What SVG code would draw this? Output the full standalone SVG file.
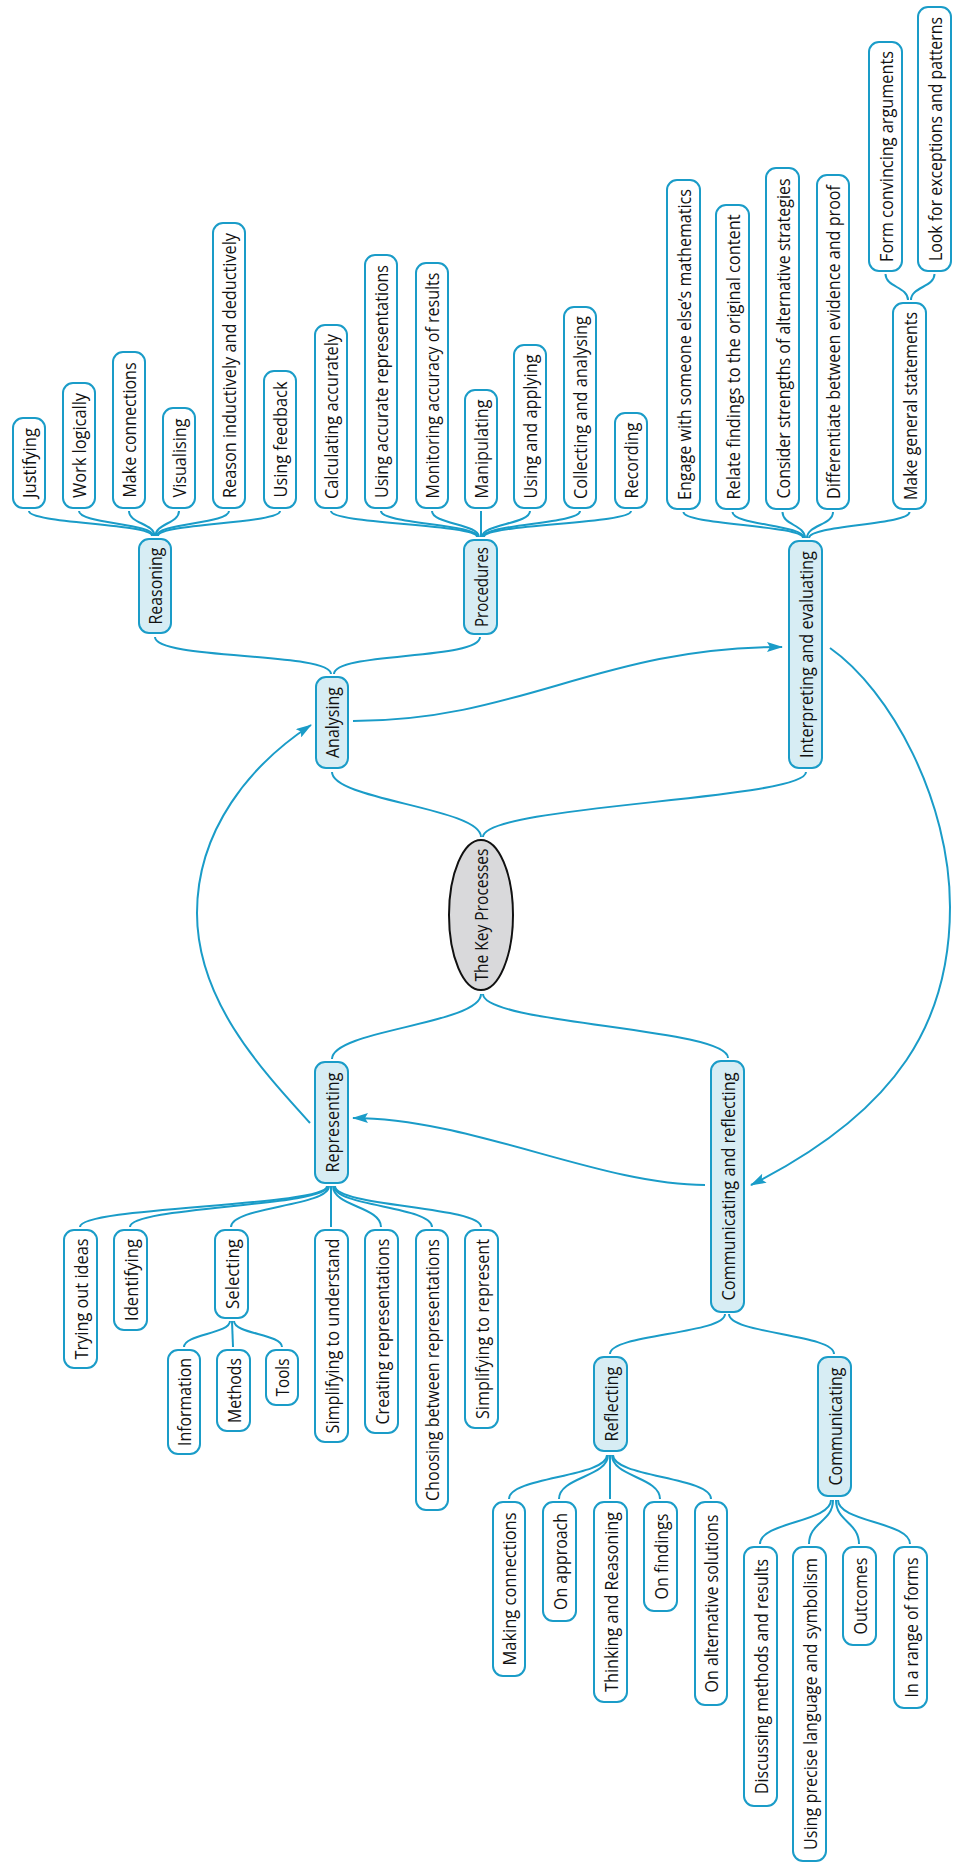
<svg xmlns="http://www.w3.org/2000/svg" width="954" height="1863" viewBox="0 0 954 1863">
<style>
.b{fill:#ffffff;stroke:#1a9cc8;stroke-width:2}
.m{fill:#d7edf4;stroke:#1a9cc8;stroke-width:2}
.t{font-family:"Open Sans","Noto Sans","Liberation Sans",sans-serif;font-size:17.5px;fill:#111;text-anchor:middle;dominant-baseline:central}
.c{fill:none;stroke:#1a9cc8;stroke-width:2}
.a{fill:none;stroke:#1a9cc8;stroke-width:2;marker-end:url(#ah)}
</style>
<defs>
<marker id="ah" viewBox="0 0 16 10" refX="15" refY="5" markerWidth="16" markerHeight="10" markerUnits="userSpaceOnUse" orient="auto">
<path d="M0,0 L16,5 L0,10 L3,5 z" fill="#1a9cc8"/>
</marker>
</defs>
<rect width="954" height="1863" fill="#ffffff"/>

<g id="connectors">
<path class="c" d="M29 511 C29 523.5 152 523.5 152 536"/>
<path class="c" d="M79 511 C79 523.5 153.5 523.5 153.5 536"/>
<path class="c" d="M129 511 C129 523.5 154.5 523.5 154.5 536"/>
<path class="c" d="M179 511 C179 523.5 155.5 523.5 155.5 536"/>
<path class="c" d="M229 511 C229 523.5 156.5 523.5 156.5 536"/>
<path class="c" d="M280 511 C280 523.5 158 523.5 158 536"/>
<path class="c" d="M331 511 C331 524 477 524 477 537"/>
<path class="c" d="M381 511 C381 524 478 524 478 537"/>
<path class="c" d="M432 511 C432 524 479 524 479 537"/>
<path class="c" d="M481 511 L481 537"/>
<path class="c" d="M530 511 C530 524 482 524 482 537"/>
<path class="c" d="M580 511 C580 524 483 524 483 537"/>
<path class="c" d="M631 511 C631 524 484 524 484 537"/>
<path class="c" d="M683.5 512 C683.5 525 803 525 803 538"/>
<path class="c" d="M732.5 512 C732.5 525 804 525 804 538"/>
<path class="c" d="M782.5 512 C782.5 525 805 525 805 538"/>
<path class="c" d="M833 512 C833 525 807 525 807 538"/>
<path class="c" d="M909.5 512 C909.5 525 809 525 809 538"/>
<path class="c" d="M885.5 274 C885.5 287 908 287 908 300"/>
<path class="c" d="M934.5 274 C934.5 287 911 287 911 300"/>
<path class="c" d="M155 637 C155 660 331 652 331 674"/>
<path class="c" d="M480 637 C480 660 334 652 334 674"/>
<path class="c" d="M332 772 C332 800 481 808 481 837"/>
<path class="c" d="M806 772 C806 800 483 805 483 837"/>
<path class="c" d="M481 994 C481 1024 332 1030 332 1059"/>
<path class="c" d="M483 994 C483 1024 728 1028 728 1058"/>
<path class="c" d="M327 1186 C327 1206.5 80 1206.5 80 1227"/>
<path class="c" d="M328 1186 C328 1206.5 130 1206.5 130 1227"/>
<path class="c" d="M329 1186 C329 1206.5 231 1206.5 231 1227"/>
<path class="c" d="M331 1186 L331 1227"/>
<path class="c" d="M333 1186 C333 1206.5 381 1206.5 381 1227"/>
<path class="c" d="M334 1186 C334 1206.5 432 1206.5 432 1227"/>
<path class="c" d="M335 1186 C335 1206.5 481 1206.5 481 1227"/>
<path class="c" d="M230 1321 C230 1334 184 1334 184 1347"/>
<path class="c" d="M232 1321 L233 1347"/>
<path class="c" d="M234 1321 C234 1334 282 1334 282 1347"/>
<path class="c" d="M725 1314 C725 1334 610 1334 610 1354"/>
<path class="c" d="M729 1314 C729 1334 834 1334 834 1354"/>
<path class="c" d="M607 1455 C607 1477 509 1477 509 1499"/>
<path class="c" d="M608 1455 C608 1477 559 1477 559 1499"/>
<path class="c" d="M610 1455 L610 1499"/>
<path class="c" d="M612 1455 C612 1477 660 1477 660 1499"/>
<path class="c" d="M613 1455 C613 1477 711 1477 711 1499"/>
<path class="c" d="M831 1500 C831 1522 760 1522 760 1544"/>
<path class="c" d="M833 1500 C833 1522 809 1522 809 1544"/>
<path class="c" d="M836 1500 C836 1522 859 1522 859 1544"/>
<path class="c" d="M838 1500 C838 1522 910 1522 910 1544"/>
<path class="a" d="M353 721 C520 721 600 647 782 647"/>
<path class="a" d="M830 648 C890 690 950 800 950 907 C950 1020 900 1110 751 1185"/>
<path class="a" d="M705 1185 C600 1185 470 1118 353 1118"/>
<path class="a" d="M310 1123 C260 1068 197 1000 197 913 C197 830 250 765 311 725"/>
</g>

<g id="key-processes">
<ellipse cx="481" cy="915" rx="32" ry="75" fill="#d9d9db" stroke="#111" stroke-width="2"/>
<text class="t" transform="translate(481,915) rotate(-90)" textLength="133" lengthAdjust="spacingAndGlyphs">The Key Processes</text>
</g>

<g id="analysing"><rect class="m" x="316" y="677" width="32" height="91" rx="10"/><text class="t" transform="translate(332,722.5) rotate(-90)" textLength="71" lengthAdjust="spacingAndGlyphs">Analysing</text></g>
<g id="reasoning"><rect class="m" x="139" y="539" width="32" height="94" rx="10"/><text class="t" transform="translate(155,586) rotate(-90)" textLength="77" lengthAdjust="spacingAndGlyphs">Reasoning</text></g>
<g id="justifying"><rect class="b" x="13" y="418" width="32" height="90" rx="10"/><text class="t" transform="translate(29,463) rotate(-90)" textLength="70" lengthAdjust="spacingAndGlyphs">Justifying</text></g>
<g id="work-logically"><rect class="b" x="63" y="383" width="32" height="125" rx="10"/><text class="t" transform="translate(79,445.5) rotate(-90)" textLength="105" lengthAdjust="spacingAndGlyphs">Work logically</text></g>
<g id="make-connections"><rect class="b" x="113" y="352" width="32" height="156" rx="10"/><text class="t" transform="translate(129,430) rotate(-90)" textLength="135" lengthAdjust="spacingAndGlyphs">Make connections</text></g>
<g id="visualising"><rect class="b" x="163" y="408" width="32" height="100" rx="10"/><text class="t" transform="translate(179,458) rotate(-90)" textLength="79" lengthAdjust="spacingAndGlyphs">Visualising</text></g>
<g id="reason-inductively"><rect class="b" x="213" y="223" width="32" height="285" rx="10"/><text class="t" transform="translate(229,365.5) rotate(-90)" textLength="265" lengthAdjust="spacingAndGlyphs">Reason inductively and deductively</text></g>
<g id="using-feedback"><rect class="b" x="264" y="371" width="32" height="137" rx="10"/><text class="t" transform="translate(280,439.5) rotate(-90)" textLength="116" lengthAdjust="spacingAndGlyphs">Using feedback</text></g>

<g id="procedures"><rect class="m" x="464" y="540" width="33" height="94" rx="10"/><text class="t" transform="translate(480.5,587) rotate(-90)" textLength="80" lengthAdjust="spacingAndGlyphs">Procedures</text></g>
<g id="calculating-accurately"><rect class="b" x="315" y="325" width="32" height="183" rx="10"/><text class="t" transform="translate(331,416.5) rotate(-90)" textLength="165" lengthAdjust="spacingAndGlyphs">Calculating accurately</text></g>
<g id="using-accurate"><rect class="b" x="365" y="255" width="32" height="253" rx="10"/><text class="t" transform="translate(381,381.5) rotate(-90)" textLength="233" lengthAdjust="spacingAndGlyphs">Using accurate representations</text></g>
<g id="monitoring"><rect class="b" x="416" y="263" width="32" height="245" rx="10"/><text class="t" transform="translate(432,385.5) rotate(-90)" textLength="226" lengthAdjust="spacingAndGlyphs">Monitoring accuracy of results</text></g>
<g id="manipulating"><rect class="b" x="465" y="390" width="32" height="118" rx="10"/><text class="t" transform="translate(481,449) rotate(-90)" textLength="99" lengthAdjust="spacingAndGlyphs">Manipulating</text></g>
<g id="using-applying"><rect class="b" x="514" y="345" width="32" height="163" rx="10"/><text class="t" transform="translate(530,426.5) rotate(-90)" textLength="144" lengthAdjust="spacingAndGlyphs">Using and applying</text></g>
<g id="collecting"><rect class="b" x="564" y="307" width="32" height="201" rx="10"/><text class="t" transform="translate(580,407.5) rotate(-90)" textLength="183" lengthAdjust="spacingAndGlyphs">Collecting and analysing</text></g>
<g id="recording"><rect class="b" x="615" y="413" width="32" height="95" rx="10"/><text class="t" transform="translate(631,460.5) rotate(-90)" textLength="76" lengthAdjust="spacingAndGlyphs">Recording</text></g>

<g id="interpreting"><rect class="m" x="789" y="541" width="33" height="227" rx="10"/><text class="t" transform="translate(805.5,654.5) rotate(-90)" textLength="207" lengthAdjust="spacingAndGlyphs">Interpreting and evaluating</text></g>
<g id="engage"><rect class="b" x="667" y="180" width="33" height="329" rx="10"/><text class="t" transform="translate(683.5,344.5) rotate(-90)" textLength="311" lengthAdjust="spacingAndGlyphs">Engage with someone else’s mathematics</text></g>
<g id="relate"><rect class="b" x="716" y="205" width="33" height="304" rx="10"/><text class="t" transform="translate(732.5,357) rotate(-90)" textLength="285" lengthAdjust="spacingAndGlyphs">Relate findings to the original content</text></g>
<g id="consider"><rect class="b" x="766" y="168" width="33" height="341" rx="10"/><text class="t" transform="translate(782.5,338.5) rotate(-90)" textLength="320" lengthAdjust="spacingAndGlyphs">Consider strengths of alternative strategies</text></g>
<g id="differentiate"><rect class="b" x="817" y="175" width="32" height="334" rx="10"/><text class="t" transform="translate(833,342) rotate(-90)" textLength="314" lengthAdjust="spacingAndGlyphs">Differentiate between evidence and proof</text></g>
<g id="make-general"><rect class="b" x="893" y="303" width="33" height="206" rx="10"/><text class="t" transform="translate(909.5,406) rotate(-90)" textLength="188" lengthAdjust="spacingAndGlyphs">Make general statements</text></g>
<g id="form-convincing"><rect class="b" x="869" y="42" width="33" height="229" rx="10"/><text class="t" transform="translate(885.5,156.5) rotate(-90)" textLength="211" lengthAdjust="spacingAndGlyphs">Form convincing arguments</text></g>
<g id="look-for"><rect class="b" x="918" y="7" width="33" height="264" rx="10"/><text class="t" transform="translate(934.5,139) rotate(-90)" textLength="244" lengthAdjust="spacingAndGlyphs">Look for exceptions and patterns</text></g>

<g id="representing"><rect class="m" x="315" y="1062" width="33" height="121" rx="10"/><text class="t" transform="translate(331.5,1122.5) rotate(-90)" textLength="100" lengthAdjust="spacingAndGlyphs">Representing</text></g>
<g id="trying-out"><rect class="b" x="64" y="1230" width="33" height="138" rx="10"/><text class="t" transform="translate(80.5,1299) rotate(-90)" textLength="121" lengthAdjust="spacingAndGlyphs">Trying out ideas</text></g>
<g id="identifying"><rect class="b" x="114" y="1230" width="33" height="100" rx="10"/><text class="t" transform="translate(130.5,1280) rotate(-90)" textLength="82" lengthAdjust="spacingAndGlyphs">Identifying</text></g>
<g id="selecting"><rect class="b" x="215" y="1230" width="33" height="88" rx="10"/><text class="t" transform="translate(231.5,1274) rotate(-90)" textLength="70" lengthAdjust="spacingAndGlyphs">Selecting</text></g>
<g id="information"><rect class="b" x="168" y="1350" width="32" height="104" rx="10"/><text class="t" transform="translate(184,1402) rotate(-90)" textLength="88" lengthAdjust="spacingAndGlyphs">Information</text></g>
<g id="methods"><rect class="b" x="217" y="1350" width="33" height="81" rx="10"/><text class="t" transform="translate(233.5,1390.5) rotate(-90)" textLength="65" lengthAdjust="spacingAndGlyphs">Methods</text></g>
<g id="tools"><rect class="b" x="266" y="1350" width="32" height="55" rx="10"/><text class="t" transform="translate(282,1377.5) rotate(-90)" textLength="38" lengthAdjust="spacingAndGlyphs">Tools</text></g>
<g id="simplifying-understand"><rect class="b" x="315" y="1230" width="33" height="212" rx="10"/><text class="t" transform="translate(331.5,1336) rotate(-90)" textLength="195" lengthAdjust="spacingAndGlyphs">Simplifying to understand</text></g>
<g id="creating"><rect class="b" x="365" y="1230" width="33" height="203" rx="10"/><text class="t" transform="translate(381.5,1331.5) rotate(-90)" textLength="186" lengthAdjust="spacingAndGlyphs">Creating representations</text></g>
<g id="choosing"><rect class="b" x="416" y="1230" width="32" height="280" rx="10"/><text class="t" transform="translate(432,1370) rotate(-90)" textLength="262" lengthAdjust="spacingAndGlyphs">Choosing between representations</text></g>
<g id="simplifying-represent"><rect class="b" x="465" y="1230" width="33" height="198" rx="10"/><text class="t" transform="translate(481.5,1329) rotate(-90)" textLength="180" lengthAdjust="spacingAndGlyphs">Simplifying to represent</text></g>

<g id="comm-reflecting"><rect class="m" x="711" y="1061" width="33" height="251" rx="10"/><text class="t" transform="translate(727.5,1186.5) rotate(-90)" textLength="228" lengthAdjust="spacingAndGlyphs">Communicating and reflecting</text></g>
<g id="reflecting"><rect class="m" x="594" y="1357" width="33" height="94" rx="10"/><text class="t" transform="translate(610.5,1404) rotate(-90)" textLength="75" lengthAdjust="spacingAndGlyphs">Reflecting</text></g>
<g id="making-connections"><rect class="b" x="493" y="1502" width="32" height="174" rx="10"/><text class="t" transform="translate(509,1589) rotate(-90)" textLength="153" lengthAdjust="spacingAndGlyphs">Making connections</text></g>
<g id="on-approach"><rect class="b" x="543" y="1502" width="33" height="119" rx="10"/><text class="t" transform="translate(559.5,1561.5) rotate(-90)" textLength="97" lengthAdjust="spacingAndGlyphs">On approach</text></g>
<g id="thinking"><rect class="b" x="594" y="1502" width="33" height="200" rx="10"/><text class="t" transform="translate(610.5,1602) rotate(-90)" textLength="180" lengthAdjust="spacingAndGlyphs">Thinking and Reasoning</text></g>
<g id="on-findings"><rect class="b" x="644" y="1502" width="33" height="109" rx="10"/><text class="t" transform="translate(660.5,1556.5) rotate(-90)" textLength="86" lengthAdjust="spacingAndGlyphs">On findings</text></g>
<g id="on-alternative"><rect class="b" x="695" y="1502" width="32" height="203" rx="10"/><text class="t" transform="translate(711,1603.5) rotate(-90)" textLength="178" lengthAdjust="spacingAndGlyphs">On alternative solutions</text></g>
<g id="communicating"><rect class="m" x="818" y="1357" width="33" height="139" rx="10"/><text class="t" transform="translate(834.5,1426.5) rotate(-90)" textLength="118" lengthAdjust="spacingAndGlyphs">Communicating</text></g>
<g id="discussing"><rect class="b" x="744" y="1547" width="33" height="259" rx="10"/><text class="t" transform="translate(760.5,1676.5) rotate(-90)" textLength="235" lengthAdjust="spacingAndGlyphs">Discussing methods and results</text></g>
<g id="precise-language"><rect class="b" x="793" y="1547" width="33" height="314" rx="10"/><text class="t" transform="translate(809.5,1704) rotate(-90)" textLength="292" lengthAdjust="spacingAndGlyphs">Using precise language and symbolism</text></g>
<g id="outcomes"><rect class="b" x="843" y="1547" width="33" height="98" rx="10"/><text class="t" transform="translate(859.5,1596) rotate(-90)" textLength="77" lengthAdjust="spacingAndGlyphs">Outcomes</text></g>
<g id="range-of-forms"><rect class="b" x="894" y="1547" width="33" height="161" rx="10"/><text class="t" transform="translate(910.5,1627.5) rotate(-90)" textLength="140" lengthAdjust="spacingAndGlyphs">In a range of forms</text></g>
</svg>
